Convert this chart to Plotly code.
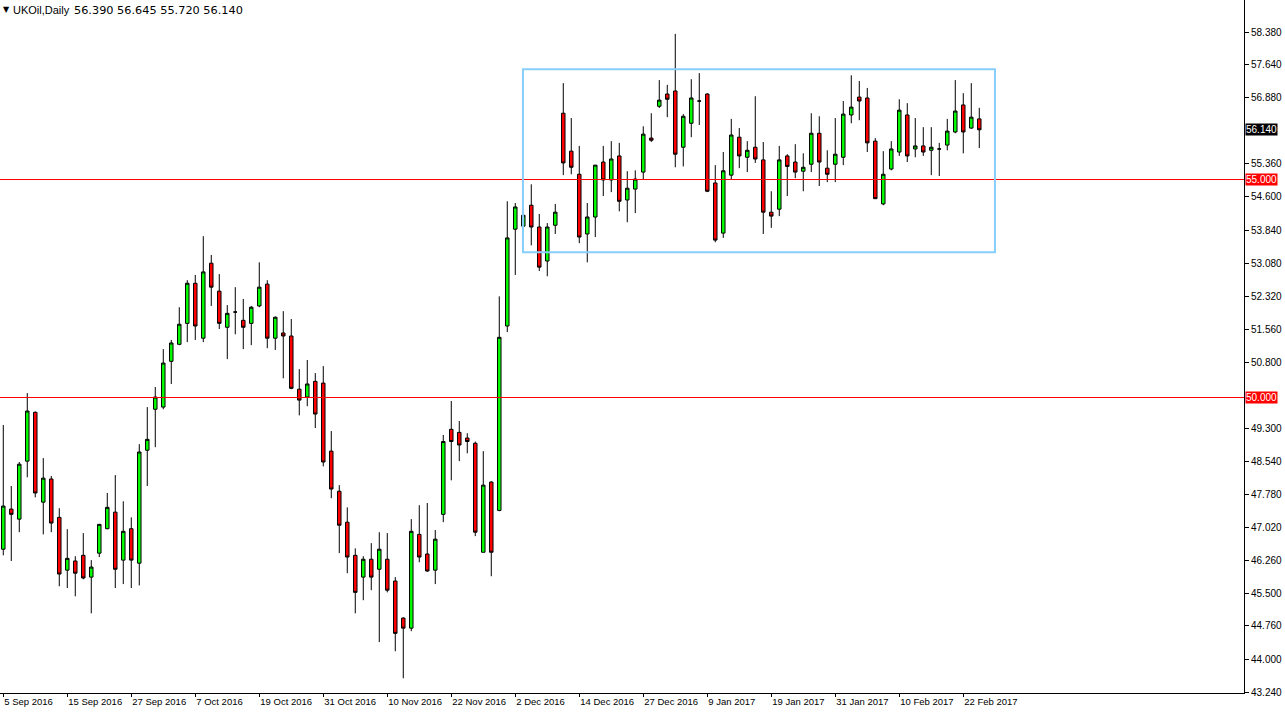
import pandas as pd
import plotly.graph_objects as go

# ---------------- data ----------------
holidays = ["2016-12-26", "2017-01-02"]
dates = [d.strftime("%Y-%m-%d") for d in pd.bdate_range("2016-09-05", "2017-02-24")
         if d.strftime("%Y-%m-%d") not in holidays]

open_ = [46.52, 47.44, 47.21, 48.54, 49.66, 47.60, 48.13, 47.25, 46.04, 46.25,
         46.38, 45.88, 46.43, 46.99, 47.37, 46.27, 46.99, 46.20, 48.79, 49.73,
         49.78, 50.83, 51.22, 51.70, 52.62, 51.36, 53.08, 52.44, 51.61, 51.96,
         51.77, 51.70, 52.10, 52.60, 51.36, 51.48, 51.41, 50.19, 50.01, 50.37,
         50.33, 48.77, 47.85, 47.14, 46.38, 45.88, 46.29, 46.06, 46.29, 45.79,
         44.94, 44.71, 46.86, 46.41, 46.04, 47.32, 49.27, 49.20, 49.07, 48.95,
         46.45, 48.06, 47.41, 51.64, 53.86, 53.93, 54.41, 53.91, 53.13, 53.95,
         56.52, 55.65, 55.12, 53.75, 54.14, 55.40, 54.99, 55.54, 54.53, 54.78,
         55.17, 55.95, 56.68, 56.96, 57.03, 55.74, 56.29, 56.80, 56.96, 54.92,
         53.77, 55.10, 55.97, 55.51, 55.74, 55.45, 54.25, 54.32, 55.54, 55.40,
         55.19, 55.35, 56.06, 55.26, 55.35, 55.51, 56.48, 56.89, 56.87, 55.88,
         54.44, 55.24, 55.63, 56.48, 55.70, 55.77, 55.67, 55.70, 55.79, 56.09,
         56.71, 56.18, 56.390]
high = [49.37, 47.97, 48.52, 50.10, 49.68, 48.61, 48.20, 47.46, 46.98, 46.36,
        46.89, 46.27, 47.10, 47.81, 48.22, 47.62, 47.25, 48.93, 49.78, 50.24,
        51.11, 51.32, 52.07, 52.69, 52.81, 53.70, 53.27, 52.83, 52.12, 52.53,
        52.26, 52.10, 53.10, 52.69, 51.86, 51.98, 51.80, 50.65, 50.86, 50.56,
        50.72, 49.23, 47.99, 47.48, 46.54, 46.36, 46.66, 46.91, 46.89, 45.88,
        44.96, 47.21, 47.53, 47.58, 46.96, 49.14, 49.92, 49.46, 49.18, 48.99,
        48.77, 48.08, 52.32, 54.50, 54.46, 54.20, 54.89, 54.21, 54.00, 54.44,
        57.21, 56.41, 55.77, 54.46, 55.33, 55.77, 55.88, 55.84, 55.19, 55.21,
        56.22, 56.52, 57.28, 57.17, 58.34, 56.50, 57.30, 57.44, 56.98, 55.33,
        55.63, 56.39, 56.18, 55.88, 56.91, 55.86, 54.73, 55.77, 55.58, 55.81,
        55.60, 56.52, 56.45, 55.67, 56.41, 56.80, 57.39, 57.26, 57.10, 55.95,
        55.65, 55.88, 56.84, 56.75, 56.41, 56.20, 56.20, 55.84, 56.39, 57.28,
        56.98, 57.21, 56.645]
low = [46.38, 46.25, 46.91, 48.17, 47.71, 46.86, 46.91, 45.67, 45.63, 45.44,
       45.83, 45.05, 46.34, 46.98, 45.63, 45.72, 45.63, 45.69, 47.97, 48.86,
       49.73, 50.31, 51.20, 51.27, 51.32, 51.27, 52.10, 51.57, 50.88, 51.45,
       51.11, 51.20, 52.07, 51.13, 51.09, 50.44, 50.19, 49.59, 49.80, 49.30,
       48.42, 47.69, 46.43, 45.97, 45.05, 45.35, 45.58, 44.39, 45.53, 44.18,
       43.56, 44.64, 46.22, 46.00, 45.72, 47.14, 48.10, 48.54, 48.72, 46.82,
       46.45, 45.90, 47.39, 51.50, 52.81, 53.91, 53.49, 52.90, 52.78, 53.75,
       55.10, 55.12, 53.54, 53.10, 53.68, 54.62, 54.71, 54.27, 54.02, 54.23,
       55.01, 55.86, 56.64, 56.43, 55.28, 55.30, 55.97, 56.25, 54.71, 53.56,
       53.66, 55.01, 55.26, 55.17, 55.38, 53.75, 53.89, 54.16, 54.62, 55.03,
       54.73, 55.17, 54.85, 54.94, 54.94, 55.33, 56.29, 56.36, 55.63, 54.56,
       54.41, 55.21, 55.54, 55.40, 55.51, 55.54, 55.10, 55.08, 55.67, 56.06,
       55.60, 56.16, 55.720]
close = [47.51, 47.32, 48.47, 49.69, 47.81, 48.15, 47.12, 45.95, 46.31, 45.97,
         45.86, 46.11, 47.09, 47.48, 46.06, 46.93, 46.27, 48.75, 49.04, 50.01,
         50.79, 51.25, 51.68, 52.62, 51.64, 52.88, 52.53, 51.70, 51.93, 51.96,
         51.61, 52.07, 52.53, 51.36, 51.84, 51.41, 50.21, 49.94, 50.31, 49.62,
         48.52, 47.90, 47.07, 46.34, 45.53, 46.29, 45.88, 46.52, 45.58, 44.59,
         44.71, 46.93, 46.34, 46.02, 46.75, 48.99, 48.99, 48.91, 48.99, 46.91,
         47.99, 46.45, 51.38, 53.66, 54.37, 54.18, 53.91, 52.99, 53.91, 54.25,
         55.38, 55.28, 53.68, 54.14, 55.33, 54.99, 55.47, 54.50, 54.80, 55.01,
         56.04, 55.90, 56.82, 56.84, 55.58, 56.45, 56.87, 56.80, 54.73, 53.61,
         55.20, 56.02, 55.54, 55.67, 55.47, 54.25, 54.16, 55.45, 55.30, 55.17,
         55.28, 56.06, 55.40, 55.12, 55.58, 56.50, 56.66, 56.80, 55.84, 54.56,
         55.12, 55.70, 56.59, 55.54, 55.77, 55.63, 55.74, 55.70, 56.11, 56.57,
         56.09, 56.43, 56.140]

tick_dates = ["2016-09-05", "2016-09-15", "2016-09-27", "2016-10-07", "2016-10-19",
              "2016-10-31", "2016-11-10", "2016-11-22", "2016-12-02", "2016-12-14",
              "2016-12-27", "2017-01-09", "2017-01-19", "2017-01-31", "2017-02-10",
              "2017-02-22"]
tick_text = ["5 Sep 2016", "15 Sep 2016", "27 Sep 2016", "7 Oct 2016", "19 Oct 2016",
             "31 Oct 2016", "10 Nov 2016", "22 Nov 2016", "2 Dec 2016", "14 Dec 2016",
             "27 Dec 2016", "9 Jan 2017", "19 Jan 2017", "31 Jan 2017", "10 Feb 2017",
             "22 Feb 2017"]
price_ticks = [43.24, 44.00, 44.76, 45.50, 46.26, 47.02, 47.78, 48.54, 49.30,
               50.80, 51.56, 52.32, 53.08, 53.84, 54.60, 55.36, 56.88, 57.64, 58.38]

level_lines = [55.0, 50.0]
current_price = 56.140
box_dates = (64.96, 123.96)     # category-index span of the range box
box_prices = (53.33, 57.53)

symbol_text = "UKOil,Daily"
ohlc_text = "56.390 56.645 55.720 56.140"

# ---------------- figure ----------------
GREEN = "#00ff00"
RED = "#ff0000"
FONT = "Liberation Sans"

fig = go.Figure(go.Candlestick(
    x=dates, open=open_, high=high, low=low, close=close,
    increasing=dict(line=dict(color="black", width=1), fillcolor=GREEN),
    decreasing=dict(line=dict(color="black", width=1), fillcolor=RED),
    whiskerwidth=0, hoverinfo="skip",
))

shapes = []
for lv in level_lines:
    shapes.append(dict(type="line", xref="paper", x0=0, x1=1, yref="y", y0=lv, y1=lv,
                       line=dict(color=RED, width=1), layer="above"))
shapes.append(dict(type="rect", xref="x", yref="y", x0=box_dates[0], x1=box_dates[1],
                   y0=box_prices[0], y1=box_prices[1],
                   line=dict(color="#87cefa", width=2), fillcolor="rgba(0,0,0,0)",
                   layer="above"))

annotations = []
for lv in level_lines:
    annotations.append(dict(xref="paper", x=1, xanchor="left", xshift=1, yref="y", y=lv,
                            text=f"{lv:.3f}", showarrow=False, bgcolor=RED,
                            font=dict(color="white", size=10, family=FONT), borderpad=0))
annotations.append(dict(xref="paper", x=1, xanchor="left", xshift=1, yref="y", y=current_price,
                        text=f"{current_price:.3f}", showarrow=False, bgcolor="black",
                        font=dict(color="white", size=10, family=FONT), borderpad=0))
annotations.append(dict(xref="paper", yref="paper", x=0, y=1, xanchor="left", yanchor="top",
                        xshift=1, yshift=-3, text="▼", showarrow=False,
                        font=dict(color="black", size=8, family="DejaVu Sans")))
annotations.append(dict(xref="paper", yref="paper", x=0, y=1, xanchor="left", yanchor="top",
                        xshift=11, yshift=-2, text=symbol_text, showarrow=False,
                        font=dict(color="black", size=11, family=FONT)))
annotations.append(dict(xref="paper", yref="paper", x=0, y=1, xanchor="left", yanchor="top",
                        xshift=72, yshift=-2, text=ohlc_text, showarrow=False,
                        font=dict(color="black", size=11.3, family="DejaVu Sans")))

fig.update_layout(
    width=1285, height=718,
    margin=dict(l=0, r=41, t=0, b=25),
    paper_bgcolor="white", plot_bgcolor="white",
    showlegend=False, boxgap=0.38,
    font=dict(family=FONT, size=10, color="black"),
    shapes=shapes, annotations=annotations,
    xaxis=dict(type="category", range=[-0.41, 155.09], rangeslider=dict(visible=False),
               tickmode="array", tickvals=tick_dates, ticktext=tick_text, tickangle=0,
               automargin=False,
               ticks="outside", ticklen=3, tickcolor="black", ticklabelposition="outside right",
               showgrid=False, zeroline=False, showline=True, linecolor="black", linewidth=1,
               tickfont=dict(size=9.5, family=FONT, color="black")),
    yaxis=dict(side="right", range=[43.222, 59.117], tickmode="array", automargin=False,
               tickvals=price_ticks, ticktext=[f"{v:.3f}" for v in price_ticks],
               ticks="outside", ticklen=4, tickcolor="black",
               showgrid=False, zeroline=False, showline=True, linecolor="black", linewidth=1,
               tickfont=dict(size=10, family=FONT, color="black")),
)

fig.write_html("out.html", config={"displayModeBar": False},
               post_script="document.body.style.margin='0';")
